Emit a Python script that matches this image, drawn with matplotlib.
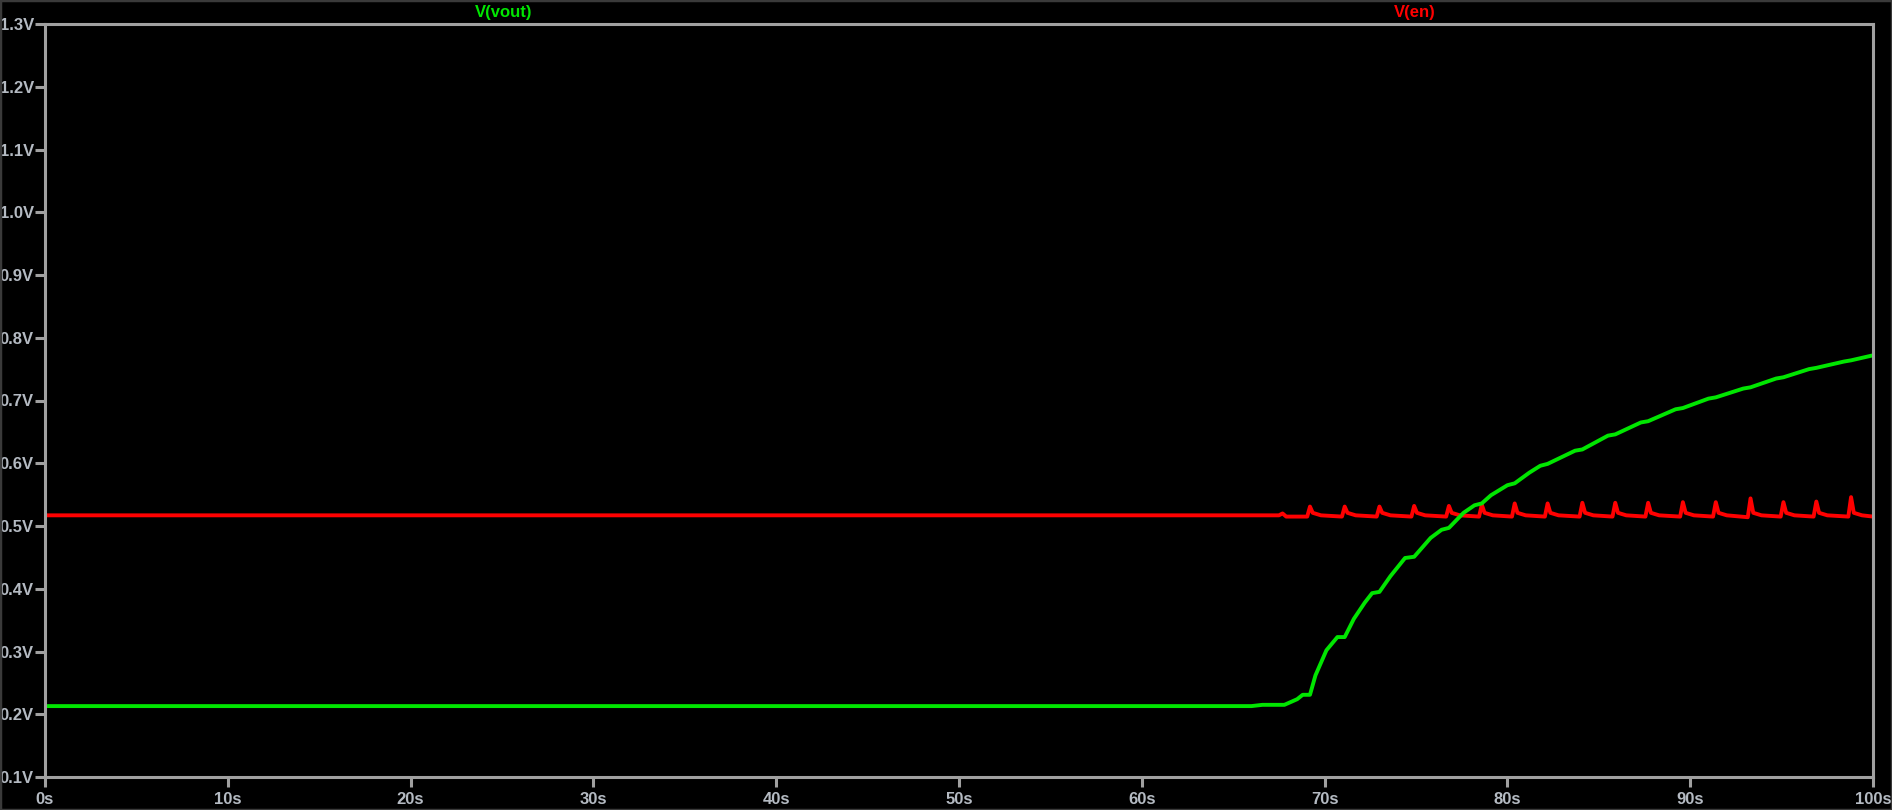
import matplotlib
matplotlib.use("Agg")
import matplotlib.pyplot as plt
from matplotlib.patches import Rectangle

# V(vout) trace
vout_t = [0, 66.0, 66.6, 67.8, 68.5, 68.8, 69.2, 69.5, 70.1, 70.7, 71.1, 71.6, 72.2, 72.6, 73.0,
          73.6, 74.4, 74.9, 75.8, 76.4, 76.8, 77.6, 78.2, 78.6, 79.1, 80.0, 80.4, 81.2, 81.8, 82.2,
          83.7, 84.1, 85.5, 85.9, 87.3, 87.7, 89.2, 89.6, 91.0, 91.4, 92.9, 93.3, 94.7, 95.1,
          96.5, 96.9, 98.4, 98.8, 100]
vout_v = [0.213, 0.213, 0.215, 0.215, 0.224, 0.231, 0.231, 0.262, 0.302, 0.323, 0.323, 0.352, 0.378, 0.393, 0.395,
          0.420, 0.449, 0.451, 0.481, 0.494, 0.497, 0.521, 0.533, 0.536, 0.549, 0.565, 0.568, 0.585, 0.596, 0.599,
          0.620, 0.622, 0.644, 0.646, 0.665, 0.667, 0.686, 0.688, 0.703, 0.705, 0.719, 0.721, 0.735, 0.737,
          0.750, 0.752, 0.762, 0.764, 0.772]

# V(en) trace, flat then small spikes
en_t = [0, 67.5, 67.7, 67.9,
        69.05, 69.2, 69.35, 69.8,
        70.95, 71.1, 71.25, 71.7,
        72.85, 73.0, 73.15, 73.6,
        74.75, 74.9, 75.05, 75.5,
        76.65, 76.8, 76.95, 77.4,
        78.45, 78.6, 78.75, 79.2,
        80.25, 80.4, 80.55, 81.0,
        82.05, 82.2, 82.35, 82.8,
        83.95, 84.1, 84.25, 84.7,
        85.75, 85.9, 86.05, 86.5,
        87.55, 87.7, 87.85, 88.3,
        89.45, 89.6, 89.75, 90.2,
        91.25, 91.4, 91.55, 92.0,
        93.15, 93.3, 93.45, 93.9,
        94.95, 95.1, 95.25, 95.7,
        96.75, 96.9, 97.05, 97.5,
        98.65, 98.8, 98.95, 99.4,
        100]
en_v = [0.517, 0.517, 0.520, 0.515,
        0.515, 0.531, 0.521, 0.517,
        0.515, 0.531, 0.521, 0.517,
        0.515, 0.531, 0.521, 0.517,
        0.515, 0.532, 0.521, 0.517,
        0.515, 0.532, 0.521, 0.517,
        0.515, 0.534, 0.521, 0.517,
        0.515, 0.536, 0.521, 0.517,
        0.515, 0.536, 0.521, 0.517,
        0.515, 0.537, 0.521, 0.517,
        0.515, 0.537, 0.521, 0.517,
        0.515, 0.537, 0.521, 0.517,
        0.515, 0.538, 0.521, 0.517,
        0.515, 0.538, 0.521, 0.517,
        0.514, 0.544, 0.521, 0.517,
        0.515, 0.538, 0.521, 0.517,
        0.515, 0.539, 0.521, 0.517,
        0.515, 0.546, 0.521, 0.517,
        0.515]

x_ticks = [0, 10, 20, 30, 40, 50, 60, 70, 80, 90, 100]
x_labels = ["0s", "10s", "20s", "30s", "40s", "50s", "60s", "70s", "80s", "90s", "100s"]
y_ticks = [0.1, 0.2, 0.3, 0.4, 0.5, 0.6, 0.7, 0.8, 0.9, 1.0, 1.1, 1.2, 1.3]
y_labels = ["0.1V", "0.2V", "0.3V", "0.4V", "0.5V", "0.6V", "0.7V", "0.8V", "0.9V", "1.0V", "1.1V", "1.2V", "1.3V"]

GREEN = "#00e600"
RED = "#ff0000"
GRAY = "#a0a0a0"
LBL = "#b4bac2"

W, H = 1892, 810
fig = plt.figure(figsize=(W / 100, H / 100), dpi=100, facecolor="black")
ax = fig.add_axes([45 / W, (H - 777) / H, (1873 - 45) / W, (777 - 24) / H], facecolor="black")

ax.plot(en_t, en_v, color=RED, lw=2.8)
ax.plot(vout_t, vout_v, color=GREEN, lw=2.8)

ax.set_xlim(0, 100)
ax.set_ylim(0.1, 1.3)
ax.set_xticks(x_ticks)
ax.set_xticklabels(x_labels)
ax.set_yticks(y_ticks)
ax.set_yticklabels(y_labels)

for s in ax.spines.values():
    s.set_color(GRAY)
    s.set_linewidth(2.2)
ax.tick_params(axis="both", direction="out", length=7.5, width=2.2, color=GRAY,
               labelcolor=LBL, labelsize=12)
ax.tick_params(axis="x", pad=3)
ax.tick_params(axis="y", pad=0.5)
for lab in ax.get_xticklabels() + ax.get_yticklabels():
    lab.set_fontfamily("Liberation Sans")
    lab.set_fontweight("bold")

fig.text(504 / W, 1 - 12 / H, "V(vout)", color=GREEN, ha="center", va="center",
         fontsize=12, fontweight="bold", family="Liberation Sans")
fig.text(1415 / W, 1 - 12 / H, "V(en)", color=RED, ha="center", va="center",
         fontsize=12, fontweight="bold", family="Liberation Sans")

# thin frame around the whole window
fig.patches.append(Rectangle((0, 0), 1, 1, transform=fig.transFigure, fill=False,
                             edgecolor="#3a3a3a", lw=2.5))

fig.savefig("out.png", dpi=100, facecolor="black")
